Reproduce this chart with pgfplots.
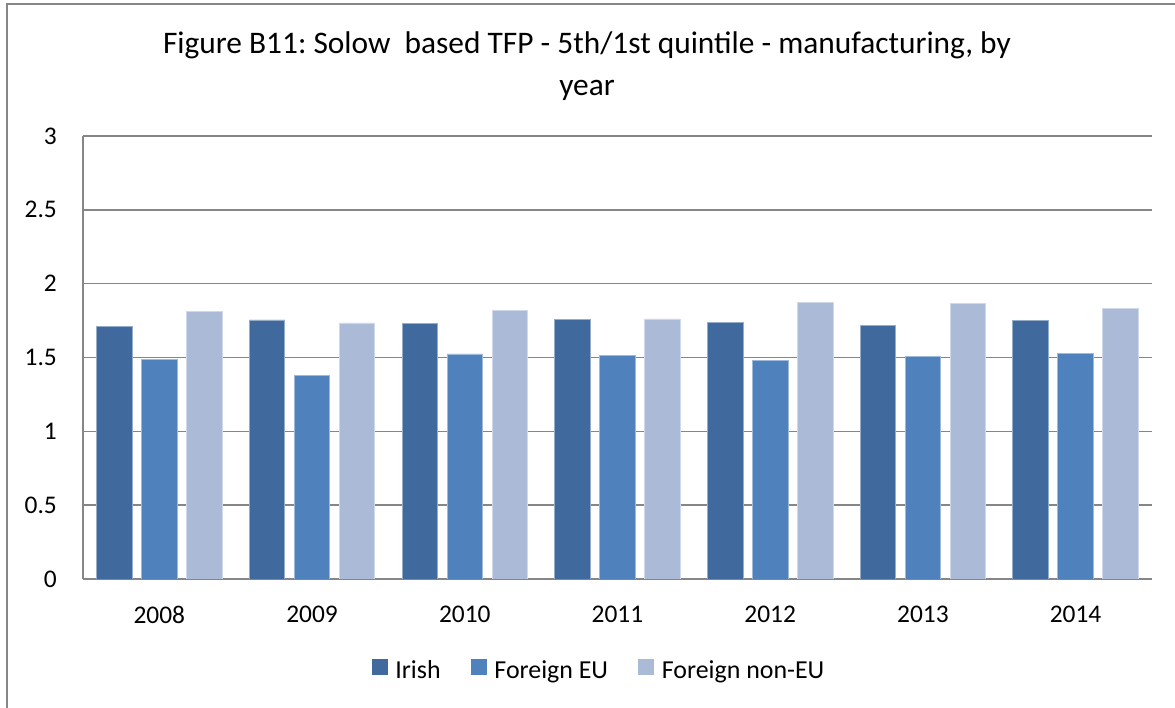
\documentclass[border=0pt]{standalone}
\usepackage{pgfplots}
\pgfplotsset{compat=1.18}
\usepackage{fontspec}
\setmainfont{Carlito}
\definecolor{irish}{RGB}{64,106,158}
\definecolor{feu}{RGB}{79,129,189}
\definecolor{fneu}{RGB}{170,186,215}
\definecolor{gridgray}{RGB}{134,134,134}
\begin{document}
\frenchspacing
\begin{tikzpicture}[x=1bp,y=1bp]
\useasboundingbox (0,0) rectangle (1175,708);
\draw[gridgray, line width=1.5bp] (7,0) -- (7,704) -- (1175,704);
\node[anchor=base, font=\fontsize{31.5}{36}\selectfont, inner sep=0pt] at (587,654) {Figure B11: Solow~~based TFP - 5th/1st quintile - manufacturing, by};
\node[anchor=base, font=\fontsize{31.5}{36}\selectfont, inner sep=0pt] at (587,612) {year};
\begin{axis}[
  at={(83bp,129bp)}, anchor=south west,
  width=1069bp, height=443bp, scale only axis,
  xmin=-0.5, xmax=6.5, ymin=0, ymax=3,
  xtick={0,...,6}, xticklabels={2008,2009,2010,2011,2012,2013,2014},
  ytick={0,0.5,1,1.5,2,2.5,3},
  /pgf/number format/assume math mode=true,
  axis lines*=left,
  axis line style={-, draw=gridgray, line width=1.5bp},
  ymajorgrids, grid style={draw=gridgray, line width=1.5bp},
  major tick length=0pt,
  tick label style={font=\fontsize{25.5}{30}\selectfont},
  yticklabel style={anchor=east, inner sep=0pt, xshift=-26bp},
  xticklabel style={anchor=north, inner sep=0pt, yshift=-27bp},
  ybar, bar width=0.2325,
  legend columns=3,
  legend style={at={(0.4818,-0.2054)}, anchor=center, draw=none, fill=none,
    font=\fontsize{26}{30}\selectfont,
    nodes={inner xsep=0pt},
    /tikz/every odd column/.style={column sep=8bp},
    /tikz/every even column/.style={column sep=30bp}},
  mybar/.style={draw=#1!55!white, fill=#1, line width=0.8bp,
    legend image code/.code={\fill[#1] (0bp,-4bp) rectangle (15bp,11bp);}},
]
\addplot[mybar=irish, bar shift=-0.2947] coordinates {(0,1.713) (1,1.754) (2,1.730) (3,1.759) (4,1.739) (5,1.716) (6,1.752)};
\addplot[mybar=feu, bar shift=0] coordinates {(0,1.484) (1,1.380) (2,1.524) (3,1.515) (4,1.480) (5,1.509) (6,1.529)};
\addplot[mybar=fneu, bar shift=0.2947] coordinates {(0,1.811) (1,1.734) (2,1.817) (3,1.761) (4,1.874) (5,1.869) (6,1.835)};
\legend{Irish, Foreign EU, Foreign non-EU}
\end{axis}
\end{tikzpicture}
\end{document}
